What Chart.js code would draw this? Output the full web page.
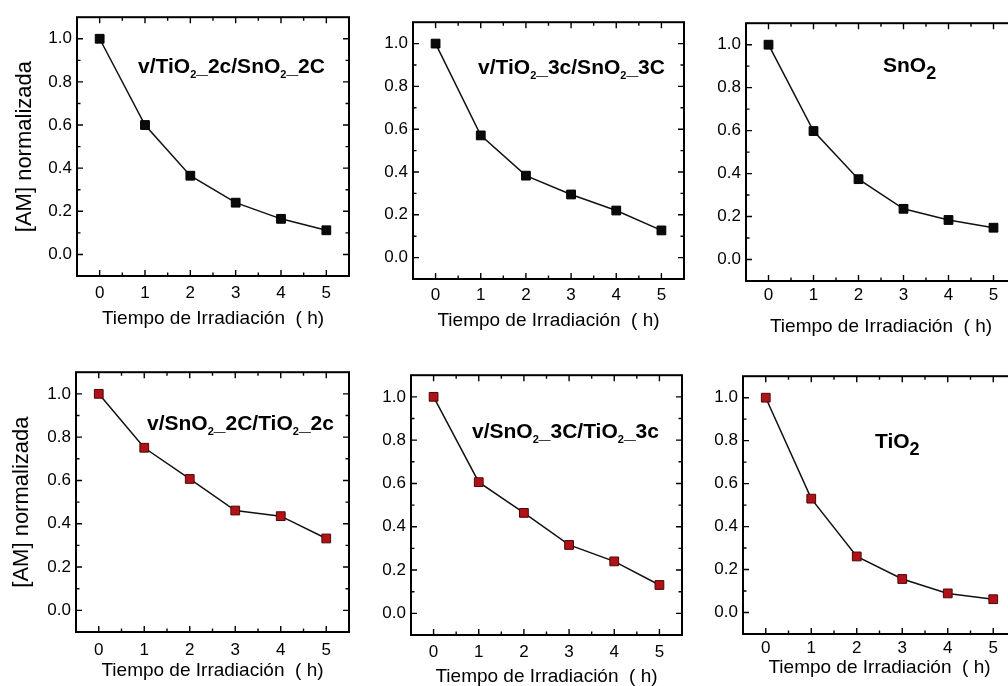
<!DOCTYPE html>
<html>
<head>
<meta charset="utf-8">
<script src="https://cdn.jsdelivr.net/npm/chart.js@4.4.1/dist/chart.umd.min.js"></script>
<style>
  html, body { margin: 0; padding: 0; background: #fff; overflow: hidden; }
  #wrap { position: relative; width: 1008px; height: 686px; overflow: hidden; background: #fff; }
  #wrap canvas { position: absolute; }
</style>
</head>
<body>
<div id="wrap"></div>
<script>
// Irradiation time (h) and tick values
const hours = [0, 1, 2, 3, 4, 5];
const xTickValues = [0, 1, 2, 3, 4, 5];
const yTickValues = [0.0, 0.2, 0.4, 0.6, 0.8, 1.0];

// Normalised methylene-blue concentration for each film
const amTiO2c2SnO2C2 = [1.00, 0.600, 0.365, 0.240, 0.165, 0.112];
const amTiO2c3SnO2C3 = [1.00, 0.571, 0.383, 0.295, 0.220, 0.127];
const amSnO2        = [1.00, 0.598, 0.374, 0.236, 0.184, 0.148];
const amSnO2C2TiO2c2 = [1.00, 0.751, 0.607, 0.461, 0.435, 0.332];
const amSnO2C3TiO2c3 = [1.00, 0.606, 0.464, 0.316, 0.240, 0.131];
const amTiO2        = [1.00, 0.530, 0.261, 0.156, 0.089, 0.062];

// Axis titles
const yTitle = '[AM] normalizada';
const xTitle = 'Tiempo de Irradiación  ( h)';

// Sample names as [text, subscript?] runs
const nameTiSn2 = [['v/TiO', 0], ['2', 1], ['_2c/SnO', 0], ['2', 1], ['_2C', 0]];
const nameTiSn3 = [['v/TiO', 0], ['2', 1], ['_3c/SnO', 0], ['2', 1], ['_3C', 0]];
const nameSn    = [['SnO', 0], ['2', 1]];
const nameSnTi2 = [['v/SnO', 0], ['2', 1], ['_2C/TiO', 0], ['2', 1], ['_2c', 0]];
const nameSnTi3 = [['v/SnO', 0], ['2', 1], ['_3C/TiO', 0], ['2', 1], ['_3c', 0]];
const nameTi    = [['TiO', 0], ['2', 1]];

const FAMILY = '"Liberation Sans", Arial, Helvetica, sans-serif';

// Panel layout: plot frame [left, top, right, bottom] on the page, label rows, name placement
const panels = [
  { frame: [77, 12, 349, 276],  values: amTiO2c2SnO2C2, name: nameTiSn2, nameAt: [61, 56], bigSub: false, tickY: 293, titleY: 319, yTitleX: 25, fill: '#0a0a0a', edge: '#000' },
  { frame: [413, 17, 684, 279], values: amTiO2c3SnO2C3, name: nameTiSn3, nameAt: [65, 52], bigSub: false, tickY: 295, titleY: 321, yTitleX: null, fill: '#0a0a0a', edge: '#000' },
  { frame: [746, 18, 1016, 281], values: amSnO2,        name: nameSn,    nameAt: [137, 49], bigSub: true, tickY: 295, titleY: 327, yTitleX: null, fill: '#0a0a0a', edge: '#000' },
  { frame: [76, 367, 349, 632], values: amSnO2C2TiO2c2, name: nameSnTi2, nameAt: [71, 58], bigSub: false, tickY: 650, titleY: 671, yTitleX: 22, fill: '#b01218', edge: '#4a0808' },
  { frame: [411, 370, 682, 635], values: amSnO2C3TiO2c3, name: nameSnTi3, nameAt: [61, 63], bigSub: false, tickY: 652, titleY: 677, yTitleX: null, fill: '#b01218', edge: '#4a0808' },
  { frame: [743, 371, 1016, 634], values: amTiO2,        name: nameTi,    nameAt: [132, 72], bigSub: true, tickY: 648, titleY: 668, yTitleX: null, fill: '#b01218', edge: '#4a0808' }
];

// Closed frame with inward major and minor ticks on all four sides
const frameTicks = {
  id: 'frameTicks',
  afterDraw(chart, args, opts) {
    const { ctx, chartArea: a, scales: { x, y } } = chart;
    const xs = x.ticks.map(t => t.value);
    const ys = y.ticks.map(t => t.value);
    const mids = v => v.slice(1).map((t, i) => (t + v[i]) / 2);
    ctx.save();
    ctx.strokeStyle = '#000';
    ctx.lineWidth = opts.tickWidth;
    ctx.beginPath();
    const vt = (val, len) => {
      const px = x.getPixelForValue(val);
      ctx.moveTo(px, a.bottom); ctx.lineTo(px, a.bottom - len);
      ctx.moveTo(px, a.top); ctx.lineTo(px, a.top + len);
    };
    const ht = (val, len) => {
      const py = y.getPixelForValue(val);
      ctx.moveTo(a.left, py); ctx.lineTo(a.left + len, py);
      ctx.moveTo(a.right, py); ctx.lineTo(a.right - len, py);
    };
    xs.forEach(v => vt(v, opts.major));
    mids(xs).forEach(v => vt(v, opts.minor));
    ys.forEach(v => ht(v, opts.major));
    mids(ys).forEach(v => ht(v, opts.minor));
    ctx.stroke();
    ctx.lineWidth = opts.frameWidth;
    ctx.strokeRect(a.left, a.top, a.right - a.left, a.bottom - a.top);
    ctx.restore();
  }
};

// Sample name with subscripts inside the plot
const sampleName = {
  id: 'sampleName',
  afterDatasetsDraw(chart, args, opts) {
    const { ctx, chartArea: a } = chart;
    let px = a.left + opts.at[0];
    const py = a.top + opts.at[1];
    ctx.save();
    ctx.fillStyle = '#000';
    ctx.textAlign = 'left';
    ctx.textBaseline = 'alphabetic';
    for (const [txt, sub] of opts.parts) {
      ctx.font = sub ? opts.subFont : opts.font;
      ctx.fillText(txt, px, py + (sub ? opts.subDy : 0));
      px += ctx.measureText(txt).width;
    }
    ctx.restore();
  }
};

const wrap = document.getElementById('wrap');
const Y_AXIS_W = 70, PAD_TOP = 10, PAD_RIGHT = 10;
const TICK_SIZE = 17, XT_SIZE = 19, YT_SIZE = 22;

panels.forEach(p => {
  const [L, T, R, B] = p.frame;
  const xTitleHalf = XT_SIZE * 1.2 / 2;
  const canvasLeft = L - Y_AXIS_W;
  const canvasTop = T - PAD_TOP;
  const canvasBottom = Math.round(p.titleY + xTitleHalf);
  const xAxisH = canvasBottom - B;
  const cv = document.createElement('canvas');
  cv.width = (R + PAD_RIGHT) - canvasLeft;
  cv.height = canvasBottom - canvasTop;
  cv.style.left = canvasLeft + 'px';
  cv.style.top = canvasTop + 'px';
  wrap.appendChild(cv);

  const showY = p.yTitleX !== null;
  const yTitlePad = showY ? p.yTitleX - canvasLeft - YT_SIZE * 1.2 / 2 : 0;

  new Chart(cv, {
    type: 'line',
    data: {
      datasets: [{
        data: hours.map((h, i) => ({ x: h, y: p.values[i] })),
        borderColor: '#111',
        borderWidth: 1.5,
        tension: 0,
        fill: false,
        pointStyle: 'rect',
        pointRadius: 6.2,
        pointBackgroundColor: p.fill,
        pointBorderColor: p.edge,
        pointBorderWidth: 1,
        clip: false
      }]
    },
    options: {
      responsive: false,
      animation: false,
      events: [],
      layout: { padding: { left: 0, top: PAD_TOP, right: PAD_RIGHT, bottom: 0 } },
      plugins: {
        legend: { display: false },
        tooltip: { enabled: false },
        frameTicks: { major: 6, minor: 3.5, tickWidth: 1.4, frameWidth: 2 },
        sampleName: {
          parts: p.name,
          at: p.nameAt,
          font: 'bold 21px ' + FAMILY,
          subFont: p.bigSub ? 'bold 18px ' + FAMILY : 'bold 11px ' + FAMILY,
          subDy: p.bigSub ? 7 : 5
        }
      },
      scales: {
        x: {
          type: 'linear', min: -0.5, max: 5.5,
          afterBuildTicks: s => { s.ticks = xTickValues.map(v => ({ value: v })); },
          afterFit: s => { s.height = xAxisH; },
          grid: { display: false, drawTicks: false },
          border: { display: false },
          ticks: {
            padding: p.tickY - B - TICK_SIZE * 1.2 / 2,
            color: '#000', autoSkip: false, maxRotation: 0,
            font: { family: FAMILY, size: TICK_SIZE },
            callback: v => String(v)
          },
          title: { display: true, text: xTitle, color: '#000', padding: 0, font: { family: FAMILY, size: XT_SIZE } }
        },
        y: {
          type: 'linear', min: -0.1, max: 1.1,
          afterBuildTicks: s => { s.ticks = yTickValues.map(v => ({ value: v })); },
          afterFit: s => { s.width = Y_AXIS_W; },
          grid: { display: false, drawTicks: false },
          border: { display: false },
          ticks: {
            padding: 5, color: '#000', autoSkip: false,
            font: { family: FAMILY, size: TICK_SIZE },
            callback: v => v.toFixed(1)
          },
          title: { display: showY, text: yTitle, color: '#000', padding: { top: yTitlePad, bottom: 0 }, font: { family: FAMILY, size: YT_SIZE } }
        }
      }
    },
    plugins: [frameTicks, sampleName]
  });
});
</script>
</body>
</html>
